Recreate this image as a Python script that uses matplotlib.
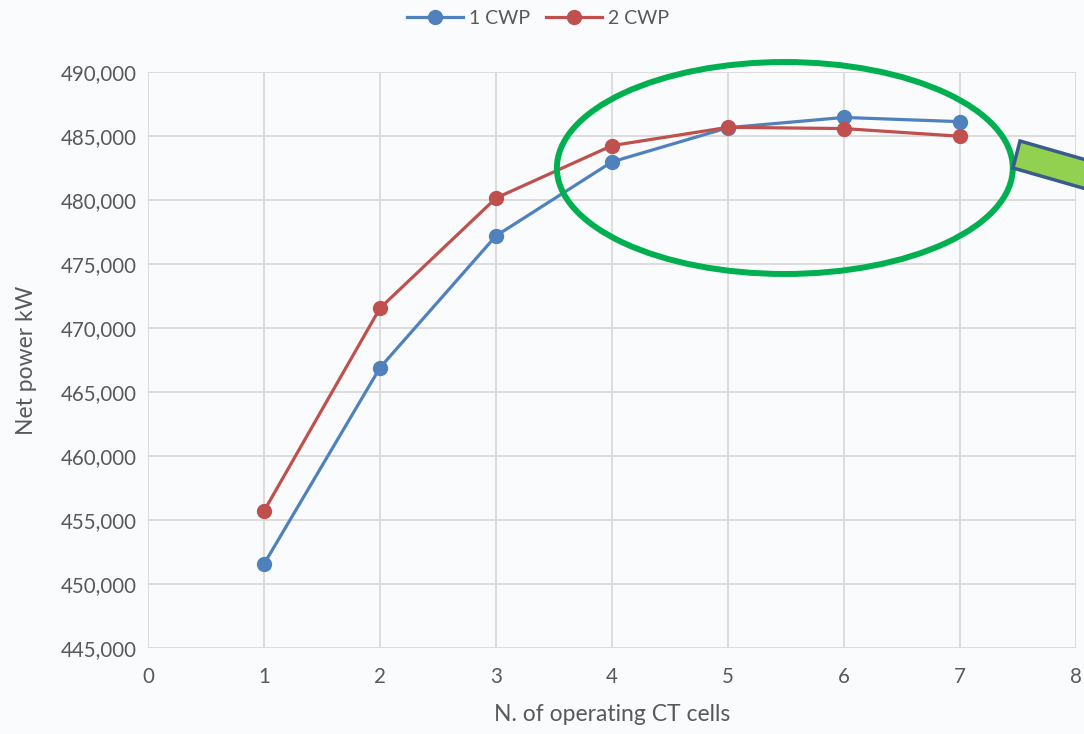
import numpy as np
import matplotlib.pyplot as plt
from matplotlib.patches import Ellipse, Polygon
from matplotlib.ticker import FuncFormatter
from matplotlib.transforms import IdentityTransform

plt.rcParams['font.family'] = ['Lato', 'DejaVu Sans']

# Data
ct_cells = [1, 2, 3, 4, 5, 6, 7]
one_cwp = [451560, 466900, 477200, 482980, 485650, 486450, 486120]
two_cwp = [455700, 471550, 480150, 484250, 485680, 485580, 484980]

blue = '#4F81BD'
red = '#C0504D'
bg = '#F9FBFD'

fig = plt.figure(figsize=(10.84, 7.34), dpi=100, facecolor=bg)
ax = fig.add_axes([148 / 1084, 86 / 734, 928 / 1084, 576 / 734])
ax.set_facecolor(bg)

ax.plot(ct_cells, one_cwp, color=blue, lw=2.3, marker='o', ms=10, label='1 CWP', zorder=3)
ax.plot(ct_cells, two_cwp, color=red, lw=2.3, marker='o', ms=10, label='2 CWP', zorder=3)

ax.set_xlim(0, 8)
ax.set_ylim(445000, 490000)
ax.set_xticks(range(0, 9))
ax.set_yticks(np.arange(445000, 490001, 5000))
ax.yaxis.set_major_formatter(FuncFormatter(lambda v, p: f'{int(v):,}'))
ax.grid(True, color='#D9D9D9', lw=1.3)
ax.set_axisbelow(True)
for s in ax.spines.values():
    s.set_visible(False)
ax.tick_params(length=0, labelsize=14.8, colors='#595959')
ax.tick_params(axis='x', pad=14)
ax.tick_params(axis='y', pad=8)

ax.set_xlabel('N. of operating CT cells', fontsize=16.5, color='#595959', labelpad=12)
ax.set_ylabel('Net power kW', fontsize=16.5, color='#595959', labelpad=17)

leg = fig.legend(loc='center', bbox_to_anchor=(538 / 1084, 1 - 18 / 734), ncol=2, frameon=False,
                 fontsize=14, handlelength=2.9, columnspacing=0.8, handletextpad=0.3)
for t in leg.get_texts():
    t.set_color('#595959')

# green highlight ellipse
ell = Ellipse((5.49, 482500), 3.93, 16560, fill=False, edgecolor='#00B050', lw=4.3, zorder=4, clip_on=False)
ax.add_patch(ell)

# cut-off arrow box at right edge (pixel coords)
ang = np.deg2rad(16)
d = np.array([np.cos(ang), np.sin(ang)])
tl = np.array([1020, 141])
bl = np.array([1013, 168])
pts = [tl, tl + 150 * d, bl + 150 * d, bl]
pts = [(p[0], 734 - p[1]) for p in pts]
fig.patches.append(Polygon(pts, closed=True, facecolor='#92D050', edgecolor='#3B5B8C', lw=2.5,
                           transform=IdentityTransform(), figure=fig))

fig.savefig('out.png', dpi=100, facecolor=bg)
